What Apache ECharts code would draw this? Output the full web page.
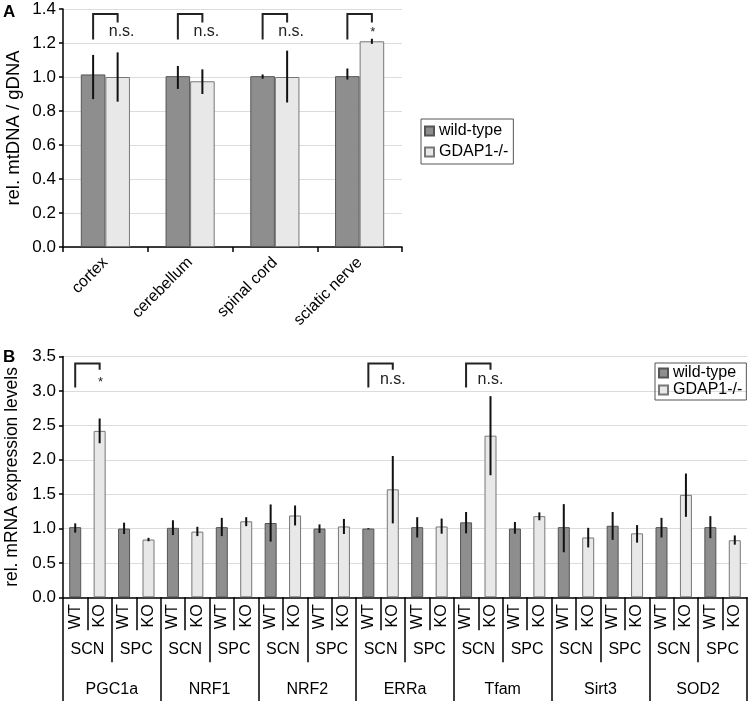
<!DOCTYPE html>
<html><head><meta charset="utf-8">
<script src="https://cdn.jsdelivr.net/npm/echarts@6/dist/echarts.min.js"></script>
<style>html,body{margin:0;padding:0;background:#fff}#c{width:750px;height:701px}</style>
</head><body><div id="c"></div>
<script>
// ---------- Panel A data ----------
const tissuesA = ['cortex', 'cerebellum', 'spinal cord', 'sciatic nerve'];
const wtA    = [1.015, 1.005, 1.005, 1.005];
const wtA_lo = [0.87, 0.93, 0.99, 0.985];
const wtA_hi = [1.13, 1.065, 1.015, 1.05];
const koA    = [1.0, 0.975, 1.0, 1.21];
const koA_lo = [0.855, 0.90, 0.85, 1.195];
const koA_hi = [1.145, 1.045, 1.155, 1.225];
const sigA   = ['n.s.', 'n.s.', 'n.s.', '*'];

// ---------- Panel B data (gene-major, SCN then SPC) ----------
const genes = ['PGC1a', 'NRF1', 'NRF2', 'ERRa', 'Tfam', 'Sirt3', 'SOD2'];
const tissuesB = ['SCN', 'SPC'];
const genotypes = ['WT', 'KO'];
const wtB    = [1.02, 1.0,  1.01, 1.02,  1.08, 1.0,   1.0, 1.02,   1.09, 1.0,   1.02, 1.04,  1.02, 1.02];
const wtB_lo = [0.94, 0.92, 0.905, 0.89, 0.81, 0.935, 0.99, 0.87,  0.93, 0.925, 0.655, 0.835, 0.87, 0.86];
const wtB_hi = [1.075, 1.085, 1.12, 1.155, 1.35, 1.06, 1.005, 1.165, 1.24, 1.095, 1.355, 1.24, 1.155, 1.18];
const koB    = [2.42, 0.84,  0.955, 1.105, 1.19, 1.03,  1.57, 1.03,  2.35, 1.18,  0.87, 0.93,  1.49, 0.83];
const koB_lo = [2.24, 0.815, 0.89, 1.035,  1.045, 0.92, 1.075, 0.925, 1.775, 1.12, 0.725, 0.795, 1.17, 0.765];
const koB_hi = [2.60, 0.865, 1.025, 1.165, 1.335, 1.14, 2.055, 1.145, 2.925, 1.235, 1.01, 1.05, 1.80, 0.90];
// significance comparisons in B: [gene index, tissue index, label]
const sigB = [[0, 0, '*'], [3, 0, 'n.s.'], [4, 0, 'n.s.']];

const FONT = '"Liberation Sans", Arial, Helvetica, sans-serif';
const NARROW = '"Liberation Sans Narrow", "Liberation Sans", Arial, sans-serif';
const WT_STYLE = {color: '#8e8e8e', borderColor: '#555', borderWidth: 1};
const KO_STYLE = {color: '#e8e8e8', borderColor: '#777', borderWidth: 1};
const AX = {color: '#000', width: 1.5};
const GRIDLINE = {lineStyle: {color: '#dcdcdc', width: 1}};

// build slot arrays for panel B
const lvl1 = [], lvl2 = [], wtSlots = [], koSlots = [], errB = [];
genes.forEach((g, gi) => {
  tissuesB.forEach((t, ti) => {
    lvl2.push(t);
    const k = gi * 2 + ti;
    genotypes.forEach((gt, gti) => {
      const slot = lvl1.length;
      lvl1.push(gt);
      if (gti === 0) { wtSlots.push(wtB[k]); koSlots.push('-'); errB.push([slot, wtB_lo[k], wtB_hi[k]]); }
      else { wtSlots.push('-'); koSlots.push(koB[k]); errB.push([slot, koB_lo[k], koB_hi[k]]); }
    });
  });
});
const errA = [];
tissuesA.forEach((t, i) => { errA.push([i, wtA_lo[i], wtA_hi[i], -1]); errA.push([i, koA_lo[i], koA_hi[i], 1]); });
// brackets A: [cat, top, leftEnd, rightEnd, labelY]
const brA = tissuesA.map((t, i) => [i, 1.37, 1.22, 1.32, sigA[i] === '*' ? 1.265 : 1.268]);
// brackets B: [slotLeft, top, leftEnd, rightEnd, labelY]
const brB = sigB.map(s => [s[0] * 4 + s[1] * 2, 3.40, 3.05, 3.31, s[2] === '*' ? 3.12 : 3.17]);

const OFF = 0.1446;
function errAItem(params, api) {
  const bw = api.size([1, 0])[0];
  const off = api.value(3) * bw * OFF;
  const p1 = api.coord([api.value(0), api.value(1)]);
  const p2 = api.coord([api.value(0), api.value(2)]);
  return {type: 'line', shape: {x1: p1[0] + off, y1: p1[1], x2: p1[0] + off, y2: p2[1]}, style: {stroke: '#111', lineWidth: 2}};
}
function errBItem(params, api) {
  const p1 = api.coord([api.value(0), api.value(1)]);
  const p2 = api.coord([api.value(0), api.value(2)]);
  return {type: 'line', shape: {x1: p1[0], y1: p1[1], x2: p1[0], y2: p2[1]}, style: {stroke: '#111', lineWidth: 2}};
}
function bracket(xl, xr, api, label, fs, dx) {
  const yt = api.coord([0, api.value(1)])[1];
  const yl = api.coord([0, api.value(2)])[1];
  const yr = api.coord([0, api.value(3)])[1];
  const ly = api.coord([0, api.value(4)])[1];
  return {type: 'group', children: [
    {type: 'polyline', shape: {points: [[xl, yl], [xl, yt], [xr, yt], [xr, yr]]}, style: {stroke: '#222', lineWidth: 2, fill: null}},
    {type: 'text', style: {text: label, x: xr + (label === '*' ? 1 : dx), y: ly, align: 'center', verticalAlign: 'middle', font: (label === '*' ? '13px ' : fs + 'px ') + FONT, fill: '#222'}}
  ]};
}
function brAItem(params, api) {
  const bw = api.size([1, 0])[0];
  const c = api.coord([api.value(0), 0])[0];
  return bracket(c - bw * OFF, c + bw * OFF, api, sigA[params.dataIndex], 16, 4);
}
function brBItem(params, api) {
  const xl = api.coord([api.value(0), 0])[0];
  const xr = api.coord([api.value(0) + 1, 0])[0];
  return bracket(xl, xr, api, sigB[params.dataIndex][2], 16, 0);
}

const chart = echarts.init(document.getElementById('c'), null, {renderer: 'canvas'});
chart.setOption({
  animation: false,
  backgroundColor: '#fff',
  textStyle: {fontFamily: FONT},
  graphic: [
    {type: 'text', left: 3, top: 4, style: {text: 'A', font: 'bold 17px ' + FONT, fill: '#000'}},
    {type: 'text', left: 3, top: 349, style: {text: 'B', font: 'bold 17px ' + FONT, fill: '#000'}}
  ],
  legend: [
    {data: ['wild-type', 'GDAP1-/-'], orient: 'vertical', left: 421, top: 119, icon: 'rect', itemWidth: 9, itemHeight: 9, itemGap: 5,
     padding: [4, 5, 4, 3], borderColor: '#555', borderWidth: 1, selectedMode: false,
     textStyle: {fontSize: 16, color: '#000', fontFamily: FONT}},
    {data: ['wild-type', 'GDAP1-/-'], orient: 'vertical', left: 655, top: 363, icon: 'rect', itemWidth: 9, itemHeight: 9, itemGap: 1,
     padding: [2, 4, 2, 3], borderColor: '#555', borderWidth: 1, selectedMode: false,
     textStyle: {fontSize: 16, color: '#000', fontFamily: FONT}}
  ],
  grid: [
    {left: 63, top: 9, width: 339, height: 238, outerBoundsMode: 'none', containLabel: false},
    {left: 63, top: 356.6, width: 684, height: 240.7, outerBoundsMode: 'none', containLabel: false}
  ],
  xAxis: [
    {gridIndex: 0, type: 'category', data: tissuesA, position: 'bottom',
     axisLine: {show: true, onZero: false, lineStyle: AX}, axisTick: {show: true, length: 5, interval: 0, lineStyle: AX},
     axisLabel: {rotate: 45, margin: 13, fontSize: 16, color: '#000', interval: 0, fontFamily: FONT}, splitLine: {show: false}},
    {gridIndex: 1, type: 'category', data: lvl1, position: 'bottom',
     axisLine: {show: true, onZero: false, lineStyle: AX}, axisTick: {show: true, length: 33, interval: 0, lineStyle: AX},
     axisLabel: {rotate: 90, margin: 7, fontSize: 16, color: '#000', interval: 0, fontFamily: NARROW}, splitLine: {show: false}},
    {gridIndex: 1, type: 'category', data: lvl2, position: 'bottom',
     axisLine: {show: false, onZero: false}, axisTick: {show: true, length: 65, interval: 0, lineStyle: AX},
     axisLabel: {margin: 44, fontSize: 16, color: '#000', interval: 0, fontFamily: NARROW}, splitLine: {show: false}},
    {gridIndex: 1, type: 'category', data: genes, position: 'bottom',
     axisLine: {show: false, onZero: false}, axisTick: {show: true, length: 104, interval: 0, lineStyle: AX},
     axisLabel: {margin: 84, fontSize: 16, color: '#000', interval: 0, fontFamily: NARROW}, splitLine: {show: false}}
  ],
  yAxis: [
    {gridIndex: 0, type: 'value', min: 0, max: 1.4, interval: 0.2,
     axisLine: {show: true, lineStyle: AX}, axisTick: {show: true, length: 4, lineStyle: AX},
     axisLabel: {formatter: v => v.toFixed(1), fontSize: 17, color: '#000', margin: 7}, splitLine: {show: true, ...GRIDLINE},
     name: 'rel. mtDNA / gDNA', nameLocation: 'middle', nameGap: 40, nameTextStyle: {fontSize: 18.5, color: '#000'}},
    {gridIndex: 1, type: 'value', min: 0, max: 3.5, interval: 0.5,
     axisLine: {show: true, lineStyle: AX}, axisTick: {show: true, length: 4, lineStyle: AX},
     axisLabel: {formatter: v => v.toFixed(1), fontSize: 17, color: '#000', margin: 7}, splitLine: {show: true, ...GRIDLINE},
     name: 'rel. mRNA expression levels', nameLocation: 'middle', nameGap: 40, nameTextStyle: {fontSize: 17.5, color: '#000'}}
  ],
  series: [
    {name: 'wild-type', type: 'bar', xAxisIndex: 0, yAxisIndex: 0, data: wtA, barGap: '0%', barCategoryGap: '42%', itemStyle: WT_STYLE},
    {name: 'GDAP1-/-', type: 'bar', xAxisIndex: 0, yAxisIndex: 0, data: koA, barGap: '0%', barCategoryGap: '42%', itemStyle: KO_STYLE},
    {type: 'custom', xAxisIndex: 0, yAxisIndex: 0, data: errA, renderItem: errAItem, silent: true, z: 5},
    {type: 'custom', xAxisIndex: 0, yAxisIndex: 0, data: brA, renderItem: brAItem, silent: true, z: 5},
    {name: 'wild-type', type: 'bar', xAxisIndex: 1, yAxisIndex: 1, data: wtSlots, barGap: '-100%', barWidth: 12, itemStyle: WT_STYLE},
    {name: 'GDAP1-/-', type: 'bar', xAxisIndex: 1, yAxisIndex: 1, data: koSlots, barGap: '-100%', barWidth: 12, itemStyle: KO_STYLE},
    {type: 'custom', xAxisIndex: 1, yAxisIndex: 1, data: errB, renderItem: errBItem, silent: true, z: 5},
    {type: 'custom', xAxisIndex: 1, yAxisIndex: 1, data: brB, renderItem: brBItem, silent: true, z: 5}
  ]
});
</script></body></html>
